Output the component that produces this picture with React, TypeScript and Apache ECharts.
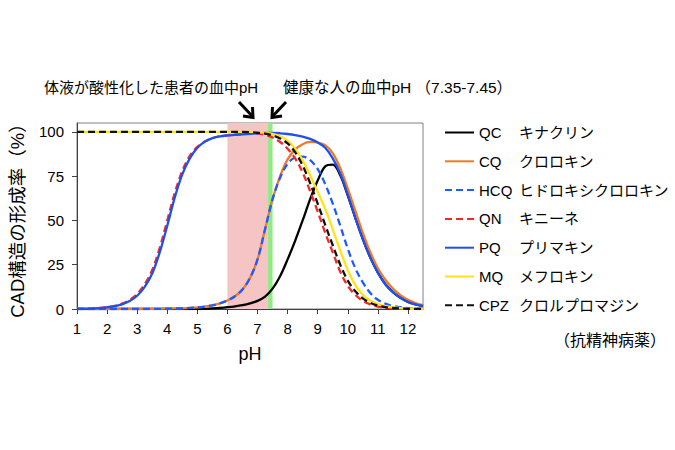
import React, { useEffect, useRef } from "react";
import * as echarts from "echarts";

const PH = [1, 1.25, 1.5, 1.75, 2, 2.25, 2.5, 2.75, 3, 3.25, 3.5, 3.75, 4, 4.25, 4.5, 4.75, 5, 5.25, 5.5, 5.75, 6, 6.25, 6.5, 6.75, 7, 7.25, 7.5, 7.75, 8, 8.25, 8.5, 8.75, 9, 9.25, 9.5, 9.75, 10, 10.25, 10.5, 10.75, 11, 11.25, 11.5, 11.75, 12, 12.25, 12.5];

const QC = [0, 0, 0, 0, 0, 0, 0, 0, 0, 0, 0, 0, 0, 0, 0, 0, 0, 0.1, 0.3, 0.6, 1, 1.5, 2.2, 3.2, 4.6, 7, 11.5, 18.5, 28, 38.5, 50, 62, 72.5, 80.5, 81.5, 75.5, 64, 51.5, 39.5, 29, 20.5, 14, 9.5, 6.3, 4, 2.6, 1.7];
const CQ = [0, 0, 0, 0, 0, 0, 0, 0, 0, 0, 0.1, 0.1, 0.2, 0.3, 0.4, 0.6, 0.9, 1.4, 2.1, 3.2, 4.8, 7.2, 11, 17.5, 28, 45, 62, 75, 84.5, 90, 93, 94.3, 94, 92.5, 88, 79.5, 68, 55.5, 43, 32, 23, 16.5, 11.5, 7.8, 5.2, 3.4, 2.2];
const HCQ = [0, 0, 0, 0, 0, 0, 0, 0, 0, 0, 0.1, 0.1, 0.2, 0.3, 0.4, 0.6, 0.9, 1.4, 2.1, 3.2, 4.8, 7.2, 11, 17.5, 28, 45, 62, 74, 82, 85.5, 86, 84, 79, 70.5, 59.5, 47, 34, 23, 15, 9, 5.2, 3, 1.7, 1, 0.5, 0.3, 0.2];
const QN = [0, 0.1, 0.3, 0.6, 1.1, 1.8, 3, 5, 8.5, 14, 22, 34.5, 50, 65.5, 78, 86.5, 91.5, 94.5, 96.5, 97.5, 98, 98.4, 98.7, 98.9, 99, 98.3, 96.8, 94.3, 90.5, 85, 77, 66.5, 55, 43, 32, 21, 13, 8, 4.6, 2.6, 1.4, 0.8, 0.4, 0.2, 0.1, 0, 0];
const PQ = [0, 0.1, 0.2, 0.5, 1, 1.6, 2.6, 4.5, 7.5, 12.5, 20, 32, 47, 63, 76, 85, 91, 94.5, 96.5, 97.5, 98, 98.3, 98.6, 98.9, 99.2, 99.4, 99.4, 99.2, 98.8, 98.2, 97.3, 96, 94, 91, 85, 76.5, 64.5, 51.5, 39.5, 29, 20.5, 14, 9.5, 6.3, 4, 2.6, 1.7];
const MQ = [100, 100, 100, 100, 100, 100, 100, 100, 100, 100, 100, 100, 100, 100, 100, 100, 100, 100, 100, 100, 100, 100, 100, 100, 99.8, 99.5, 98.8, 97.5, 95, 90.5, 84, 75.5, 66, 56.5, 45, 33, 22, 13.5, 8, 4.8, 2.8, 1.6, 0.9, 0.5, 0.3, 0.15, 0.1];
const CPZ = [100, 100, 100, 100, 100, 100, 100, 100, 100, 100, 100, 100, 100, 100, 100, 100, 100, 100, 100, 100, 100, 100, 100, 99.8, 99.5, 99, 98, 96.3, 93.5, 88.5, 81, 71, 59.5, 47.5, 36, 25, 16, 10, 6, 3.5, 2, 1.1, 0.6, 0.3, 0.15, 0.1, 0];

const CODES = ["QC", "CQ", "HCQ", "QN", "PQ", "MQ", "CPZ"];
const NAMES_JA = ["キナクリン", "クロロキン", "ヒドロキシクロロキン", "キニーネ", "プリマキン", "メフロキン", "クロルプロマジン"];
const VALUES = [QC, CQ, HCQ, QN, PQ, MQ, CPZ];
const COLORS = ["#000000", "#F07A26", "#1E5CFF", "#F02A2A", "#1E50EE", "#FFE31A", "#111111"];
const DASHED = [false, false, true, true, false, false, true];

const X_TICKS_MIN = 1;
const X_MAX = 12.5;
const Y_MAX = 105;
const ACID_BAND = [6, 7.35];
const NORMAL_BAND = [7.35, 7.5];

const FONT = "'Liberation Sans', Arial, 'Noto Sans CJK JP', sans-serif";

export default function App() {
  const ref = useRef<HTMLDivElement>(null);
  useEffect(() => {
    if (!ref.current) return;
    const chart = echarts.init(ref.current, null, { renderer: "svg" });
    const jaMap: Record<string, string> = {};
    CODES.forEach((c, i) => (jaMap[c] = NAMES_JA[i]));

    const lineSeries = CODES.map((code, i) => ({
      name: code,
      type: "line",
      data: PH.map((x, j) => [x, VALUES[i][j]]),
      showSymbol: false,
      symbol: "none",
      smooth: 0.35,
      z: 3 + i,
      lineStyle: {
        color: COLORS[i],
        width: 2.3,
        type: DASHED[i] ? [7, 4] : "solid",
      },
      itemStyle: { color: COLORS[i] },
    }));

    chart.setOption({
      animation: false,
      textStyle: { fontFamily: FONT },
      grid: {
        left: 77,
        right: 252,
        top: 123,
        bottom: 141,
        show: true,
        borderColor: "#808080",
        borderWidth: 1,
      },
      xAxis: {
        type: "value",
        min: X_TICKS_MIN,
        max: X_MAX,
        interval: 1,
        name: "pH",
        nameLocation: "middle",
        nameGap: 36,
        nameTextStyle: { fontSize: 18, color: "#000", fontFamily: FONT },
        axisLine: { show: true, lineStyle: { color: "#404040" } },
        axisTick: { show: true, length: 5, lineStyle: { color: "#404040" } },
        axisLabel: { fontSize: 15, color: "#000", margin: 12, fontFamily: FONT },
        splitLine: { show: false },
      },
      yAxis: {
        type: "value",
        min: 0,
        max: Y_MAX,
        interval: 25,
        name: "CAD構造の形成率（%）",
        nameLocation: "middle",
        nameGap: 50,
        nameRotate: 90,
        nameTextStyle: { fontSize: 18.5, color: "#000", fontFamily: FONT },
        axisLine: { show: true, lineStyle: { color: "#404040" } },
        axisTick: { show: true, length: 5, lineStyle: { color: "#404040" } },
        axisLabel: { fontSize: 15, color: "#000", margin: 13, fontFamily: FONT },
        splitLine: { show: false },
      },
      legend: {
        orient: "vertical",
        left: 444,
        top: 125,
        padding: 0,
        itemWidth: 29,
        itemHeight: 14,
        itemGap: 13.8,
        data: CODES,
        selectedMode: false,
        itemStyle: { opacity: 0 },
        formatter: (name: string) => `{c|${name}}{j|${jaMap[name]}}`,
        textStyle: {
          color: "#000",
          fontSize: 15,
          fontFamily: FONT,
          rich: {
            c: { width: 40, fontSize: 15, fontFamily: FONT, color: "#000" },
            j: { fontSize: 15, fontFamily: FONT, color: "#000" },
          },
        },
      },
      series: [
        {
          name: "bands",
          type: "line",
          data: [],
          z: 1,
          silent: true,
          markArea: {
            silent: true,
            data: [
              [
                { xAxis: ACID_BAND[0], itemStyle: { color: "#F5C5C5" } },
                { xAxis: ACID_BAND[1] },
              ],
              [
                { xAxis: NORMAL_BAND[0], itemStyle: { color: "#93E986" } },
                { xAxis: NORMAL_BAND[1] },
              ],
            ],
          },
        },
        ...lineSeries,
      ],
      graphic: [
        {
          type: "text",
          x: 151,
          y: 87,
          style: {
            text: "体液が酸性化した患者の血中pH",
            fill: "#000",
            fontSize: 15,
            fontFamily: FONT,
            align: "center",
            verticalAlign: "middle",
          },
        },
        {
          type: "text",
          x: 283,
          y: 87,
          style: {
            text: "健康な人の血中pH （7.35-7.45）",
            fill: "#000",
            fontSize: 15.5,
            fontFamily: FONT,
            align: "left",
            verticalAlign: "middle",
          },
        },
        {
          type: "line",
          shape: { x1: 239, y1: 102, x2: 253, y2: 117 },
          style: { stroke: "#000", lineWidth: 3 },
        },
        {
          type: "polyline",
          shape: { points: [[243, 116], [253, 117.5], [252.5, 107]] },
          style: { stroke: "#000", lineWidth: 3, fill: null },
        },
        {
          type: "line",
          shape: { x1: 286, y1: 102, x2: 272, y2: 117 },
          style: { stroke: "#000", lineWidth: 3 },
        },
        {
          type: "polyline",
          shape: { points: [[272.5, 107], [272, 117.5], [282, 116]] },
          style: { stroke: "#000", lineWidth: 3, fill: null },
        },
        {
          type: "text",
          x: 610,
          y: 340,
          style: {
            text: "（抗精神病薬）",
            fill: "#000",
            fontSize: 16,
            fontFamily: FONT,
            align: "center",
            verticalAlign: "middle",
          },
        },
      ],
    });
    return () => chart.dispose();
  }, []);
  return (
    <div
      ref={ref}
      style={{ position: "fixed", left: 0, top: 0, width: 675, height: 450, background: "#fff" }}
    />
  );
}
